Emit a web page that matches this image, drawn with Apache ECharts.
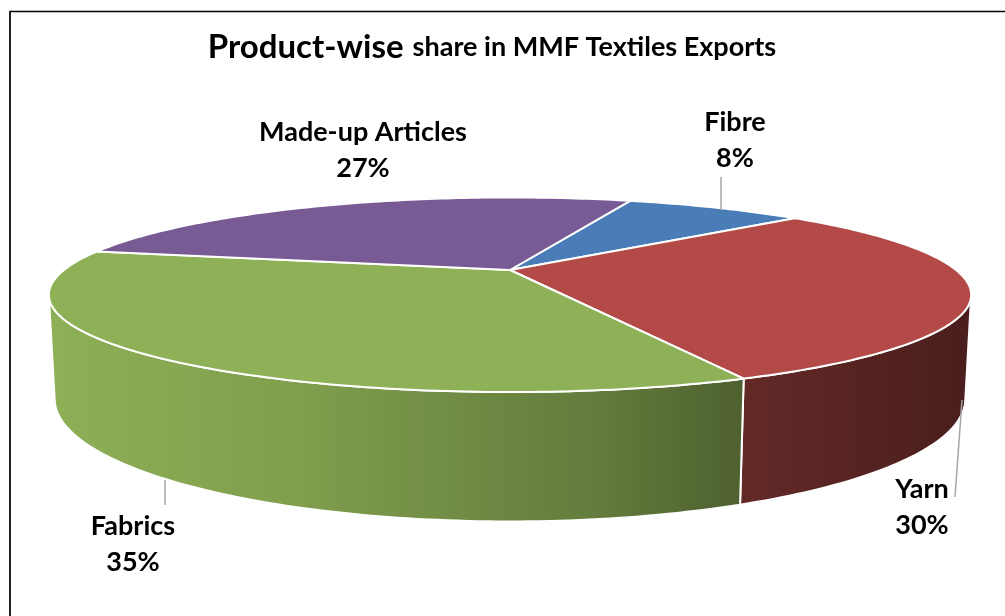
<!DOCTYPE html>
<html><head><meta charset="utf-8">
<script src="https://cdn.jsdelivr.net/npm/echarts@6/dist/echarts.min.js"></script>
<style>html,body{margin:0;padding:0;background:#fff}#c{width:1005px;height:616px}</style>
</head><body><div id="c"></div>
<script>
// ---- data ----
const categories = ['Fibre', 'Yarn', 'Fabrics', 'Made-up Articles'];
const values = [8, 30, 35, 27];
const titleMain = 'Product-wise';
const titleSub = 'share in MMF Textiles Exports';

// ---- styling / layout ----
const topColors = ['#4a7cb8', '#b44a47', '#8eb056', '#785a94'];
const FONT = 'Lato';
const labelPos = [[735, 140], [922, 507], [133, 544], [363, 150]];
const leaders = [[[721, 177], [721, 210]], [[962, 400], [955, 497]], [[165, 480], [165, 505]], null];

// ---- 3D projection of the pie disk ----
const CX = 510, CY = 270, R = 446, SINP = 0.204, COSP = Math.sqrt(1 - SINP * SINP), D = 3.85, H = 0.228;
const START = -70.5;
const total = values.reduce((a, b) => a + b, 0);
const angles = [START];
values.forEach((v, i) => angles.push(angles[i] + 360 * v / total));
const SIL = Math.asin(1 / (D * COSP)) * 180 / Math.PI; // wall silhouette angle

function proj(deg, r, Y) {
  const t = deg * Math.PI / 180;
  const X = r * Math.cos(t), Z = r * Math.sin(t);
  const v = Y * COSP - Z * SINP;
  const w = Z * COSP + Y * SINP;
  const s = D / (D - w);
  return [CX + R * X * s, CY - R * v * s];
}
function arc(a0, a1, Y) {
  const pts = [];
  const n = Math.max(2, Math.ceil(Math.abs(a1 - a0) / 1));
  for (let k = 0; k <= n; k++) pts.push(proj(a0 + (a1 - a0) * k / n, 1, Y));
  return pts;
}
function shade(hex, f) {
  const n = parseInt(hex.slice(1), 16);
  const r = Math.round(((n >> 16) & 255) * f), g = Math.round(((n >> 8) & 255) * f), b = Math.round((n & 255) * f);
  return 'rgb(' + r + ',' + g + ',' + b + ')';
}
const shadeStops = [[40, 1.0], [300, 0.9], [600, 0.70], [740, 0.55], [980, 0.40]];
function wallFill(hex) {
  const x0 = shadeStops[0][0], x1 = shadeStops[shadeStops.length - 1][0];
  return new echarts.graphic.LinearGradient(x0, 0, x1, 0,
    shadeStops.map(s => ({ offset: (s[0] - x0) / (x1 - x0), color: shade(hex, s[1]) })), true);
}

function renderWall(params, api) {
  const i = params.dataIndex;
  let a0 = angles[i], a1 = angles[i + 1];
  const lo = SIL, hi = 180 - SIL;
  while (a0 > hi) { a0 -= 360; a1 -= 360; }
  while (a1 < lo) { a0 += 360; a1 += 360; }
  const s0 = Math.max(a0, lo), s1 = Math.min(a1, hi);
  if (s1 <= s0) return null;
  const top = arc(s0, s1, 0), bot = arc(s1, s0, -H);
  return {
    type: 'polygon',
    shape: { points: top.concat(bot) },
    style: { fill: wallFill(topColors[i]), stroke: '#ffffff', lineWidth: 2, lineJoin: 'round' }
  };
}
function renderTop(params, api) {
  const i = params.dataIndex;
  const pts = [proj(0, 0, 0)].concat(arc(angles[i], angles[i + 1], 0));
  return {
    type: 'polygon',
    shape: { points: pts },
    style: { fill: topColors[i], stroke: '#ffffff', lineWidth: 2, lineJoin: 'round' }
  };
}

const seriesData = categories.map((c, i) => ({ name: c, value: values[i] }));

const graphics = [
  { type: 'line', shape: { x1: 9, y1: 11.5, x2: 1005, y2: 11.5 }, style: { stroke: '#000', lineWidth: 1.5 } },
  { type: 'line', shape: { x1: 10, y1: 11, x2: 10, y2: 616 }, style: { stroke: '#222', lineWidth: 2 } },
  {
    type: 'text', x: 492, y: 47,
    style: {
      text: '{a|' + titleMain + '}{b|' + titleSub + '}',
      align: 'center', verticalAlign: 'middle',
      rich: {
        a: { fontFamily: FONT, fontWeight: 'bold', fontSize: 33, fill: '#000', padding: [0, 9, 0, 0] },
        b: { fontFamily: FONT, fontWeight: 'bold', fontSize: 27, fill: '#000' }
      }
    }
  }
];
categories.forEach((c, i) => {
  if (leaders[i]) {
    graphics.push({ type: 'polyline', z: 10, shape: { points: leaders[i] }, style: { stroke: '#a6a6a6', lineWidth: 1.5 } });
  }
  graphics.push({
    type: 'text', x: labelPos[i][0], y: labelPos[i][1], z: 10,
    style: {
      text: c + '\n' + values[i] + '%', align: 'center', verticalAlign: 'middle',
      fontFamily: FONT, fontWeight: 'bold', fontSize: 27, lineHeight: 36, fill: '#000'
    }
  });
});

const chart = echarts.init(document.getElementById('c'), null, { renderer: 'canvas' });
chart.setOption({
  backgroundColor: '#ffffff',
  animation: false,
  series: [
    { type: 'custom', name: 'wall', coordinateSystem: 'none', renderItem: renderWall, data: seriesData, silent: true, z: 1 },
    { type: 'custom', name: 'top', coordinateSystem: 'none', renderItem: renderTop, data: seriesData, silent: true, z: 2 }
  ],
  graphic: graphics
});
</script></body></html>
